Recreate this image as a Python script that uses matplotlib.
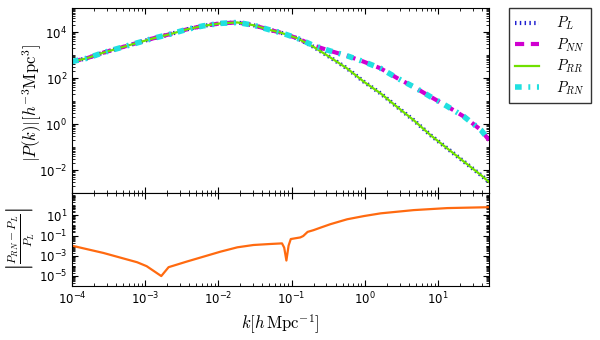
import matplotlib
matplotlib.use("Agg")
import matplotlib.pyplot as plt
import numpy as np
from matplotlib.ticker import LogLocator, NullFormatter, FixedLocator
from matplotlib.font_manager import FontProperties

# values (log10)
log_k = np.array([-4.0, -3.8, -3.58, -3.34, -3.11, -2.89, -2.66, -2.43, -2.21, -1.97,
                  -1.74, -1.52, -1.29, -1.15, -0.92, -0.70, -0.47, -0.24, -0.01, 0.22,
                  0.45, 0.67, 0.90, 1.13, 1.36, 1.59, 1.70])
log_pl = np.array([2.72, 2.86, 3.10, 3.32, 3.53, 3.73, 3.91, 4.12, 4.27, 4.38,
                   4.42, 4.30, 4.09, 3.98, 3.73, 3.36, 2.90, 2.42, 1.84, 1.33,
                   0.73, 0.17, -0.48, -1.06, -1.64, -2.22, -2.52])
log_pnn = np.array([2.72, 2.86, 3.10, 3.32, 3.53, 3.73, 3.91, 4.12, 4.27, 4.38,
                    4.42, 4.30, 4.09, 3.98, 3.73, 3.42, 3.18, 2.97, 2.71, 2.42,
                    1.99, 1.62, 1.19, 0.77, 0.32, -0.26, -0.70])

log_k_ratio = np.array([-4.0, -3.57, -3.11, -2.98, -2.78, -2.68, -2.43, -2.20, -1.97, -1.74,
                        -1.52, -1.29, -1.13, -1.10, -1.07, -1.04, -1.01, -0.88, -0.84, -0.78,
                        -0.70, -0.60, -0.47, -0.24, -0.01, 0.22, 0.67, 1.13, 1.71])
log_ratio = np.array([-2.01, -2.73, -3.65, -4.04, -5.02, -4.14, -3.58, -3.09, -2.60, -2.17,
                      -1.94, -1.84, -1.78, -2.2, -3.48, -2.0, -1.35, -1.19, -1.05, -0.64,
                      -0.47, -0.21, 0.12, 0.61, 0.93, 1.20, 1.52, 1.72, 1.81])

k = 10 ** log_k
P_L = 10 ** log_pl
P_NN = 10 ** log_pnn
P_RR = P_L
P_RN = P_NN
k_ratio = 10 ** log_k_ratio
ratio = 10 ** log_ratio

fig = plt.figure(figsize=(6, 3.4), dpi=100)
ax1 = fig.add_axes([0.12, 0.432, 0.695, 0.544])
ax2 = fig.add_axes([0.12, 0.159, 0.695, 0.273], sharex=ax1)

ax1.plot(k, P_L, color="#2020d0", lw=3, dashes=(0.35, 0.8), label=r"$P_L$")
ax1.plot(k, P_NN, color="#d000d0", lw=3, dashes=(2.2, 1.6), label=r"$P_{NN}$")
ax1.plot(k, P_RR, color="#70e000", lw=1.6, label=r"$P_{RR}$")
ax1.plot(k, P_RN, color="#20e0e0", lw=4, dashes=(1.2, 1.2, 0.35, 1.2), label=r"$P_{RN}$")

ax2.plot(k_ratio, ratio, color="#ff6a10", lw=1.6)

for ax in (ax1, ax2):
    ax.set_xscale("log")
    ax.set_yscale("log")
    ax.tick_params(which="both", direction="in", top=True, right=True, labelsize=8.5)
    ax.tick_params(which="major", length=4)
    ax.tick_params(which="minor", length=2)
    ax.xaxis.set_minor_locator(LogLocator(base=10, subs=np.arange(2, 10), numticks=100))
    ax.yaxis.set_minor_locator(LogLocator(base=10, subs=np.arange(1, 10), numticks=100))
    ax.yaxis.set_minor_formatter(NullFormatter())

ax1.set_xlim(1e-4, 50)
ax1.set_ylim(1e-3, 1.1e5)
ax1.yaxis.set_major_locator(FixedLocator([1e-2, 1, 1e2, 1e4]))
ax2.set_ylim(1e-6, 1.6e3)
ax2.yaxis.set_major_locator(FixedLocator([1e-5, 1e-3, 1e-1, 1e1]))
ax2.set_xticks([1e-4, 1e-3, 1e-2, 1e-1, 1, 10])
plt.setp(ax1.get_xticklabels(), visible=False)

ax1.set_ylabel(r"$|P(k)|[h^{-3}\mathrm{Mpc}^3]$", fontsize=12, math_fontfamily="cm")
ax1.yaxis.set_label_coords(-0.066, 0.49)
ax2.set_ylabel(r"$\left|\frac{P_{RN}-P_L}{P_L}\right|$", fontsize=12, math_fontfamily="cm", labelpad=2)
ax2.set_xlabel(r"$k[h\,\mathrm{Mpc}^{-1}]$", fontsize=12, math_fontfamily="cm")

leg = ax1.legend(loc="upper left", bbox_to_anchor=(0.848, 0.976), bbox_transform=fig.transFigure,
                 prop=FontProperties(size=10.5, math_fontfamily="cm"), fancybox=False,
                 handlelength=1.6, handletextpad=1.2, borderpad=0.45, labelspacing=0.28,
                 borderaxespad=0)
leg.get_frame().set_edgecolor("black")
leg.get_frame().set_linewidth(1.0)

fig.savefig("out.png", dpi=100)
